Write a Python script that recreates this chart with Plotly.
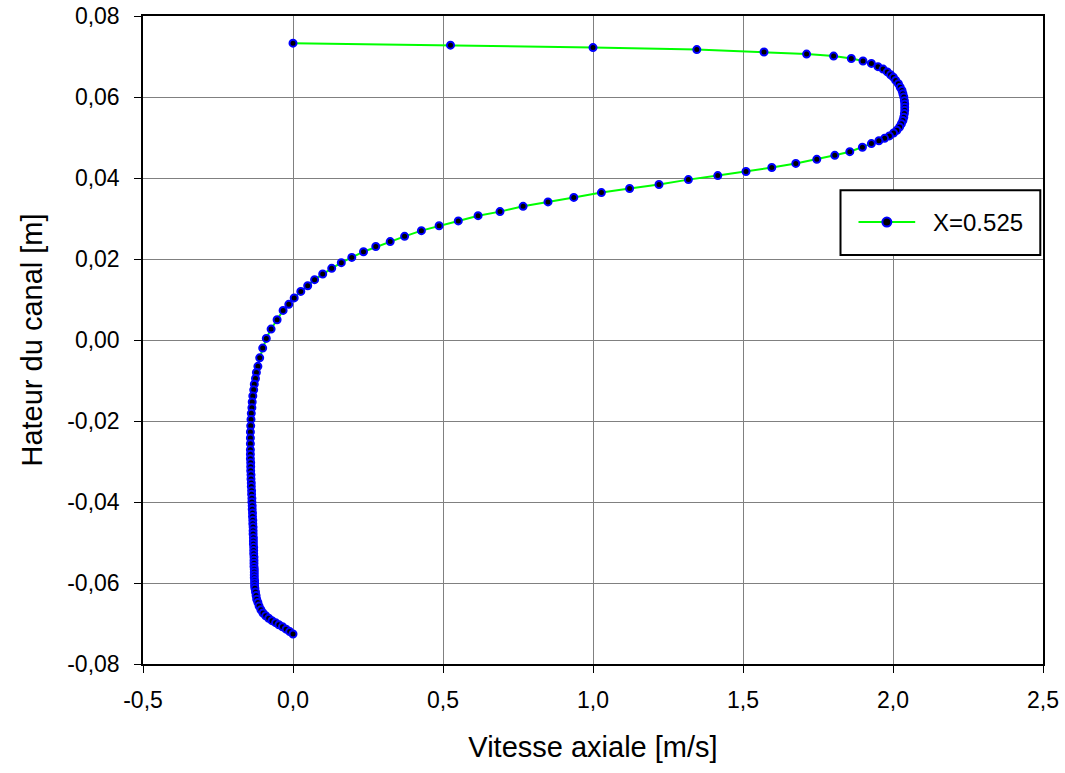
import plotly.graph_objects as go

# Axial velocity profile across the channel height at X=0.525
vitesse = [
    0.000, 0.525, 1.000, 1.346, 1.570, 1.712, 1.802, 1.861, 1.900, 1.928,
    1.950, 1.967, 1.981, 1.992, 2.001, 2.009, 2.018, 2.024, 2.030, 2.033,
    2.036, 2.038, 2.039, 2.039, 2.039, 2.038, 2.036, 2.033, 2.028, 2.022,
    2.013, 2.002, 1.988, 1.972, 1.953, 1.928, 1.898, 1.856, 1.806, 1.746,
    1.676, 1.596, 1.510, 1.416, 1.318, 1.220, 1.122, 1.028, 0.936, 0.850,
    0.767, 0.690, 0.617, 0.551, 0.487, 0.428, 0.372, 0.324, 0.276, 0.235,
    0.196, 0.161, 0.129, 0.099, 0.072, 0.049, 0.026, 0.004, -0.014, -0.033,
    -0.053, -0.073, -0.089, -0.101, -0.111, -0.117, -0.122, -0.125, -0.129, -0.131,
    -0.134, -0.136, -0.137, -0.139, -0.140, -0.141, -0.142, -0.142, -0.142, -0.142,
    -0.142, -0.142, -0.141, -0.141, -0.141, -0.140, -0.140, -0.139, -0.139, -0.138,
    -0.138, -0.137, -0.137, -0.136, -0.136, -0.135, -0.135, -0.134, -0.134, -0.133,
    -0.133, -0.133, -0.132, -0.132, -0.132, -0.131, -0.131, -0.131, -0.130, -0.130,
    -0.130, -0.130, -0.129, -0.129, -0.129, -0.129, -0.128, -0.128, -0.128, -0.127,
    -0.125, -0.123, -0.121, -0.117, -0.113, -0.107, -0.100, -0.091, -0.081, -0.070,
    -0.058, -0.047, -0.035, -0.023, -0.011, 0.000,
]
hauteur = [
    0.0733, 0.0728, 0.0722, 0.0717, 0.0711, 0.0706, 0.0701, 0.0695, 0.0689, 0.0683,
    0.0675, 0.0669, 0.0662, 0.0655, 0.0649, 0.0641, 0.0633, 0.0624, 0.0616, 0.0608,
    0.0600, 0.0591, 0.0583, 0.0575, 0.0567, 0.0559, 0.0550, 0.0542, 0.0534, 0.0526,
    0.0518, 0.0511, 0.0504, 0.0498, 0.0492, 0.0485, 0.0476, 0.0465, 0.0456, 0.0446,
    0.0436, 0.0426, 0.0416, 0.0406, 0.0396, 0.0384, 0.0374, 0.0364, 0.0352, 0.0341,
    0.0330, 0.0317, 0.0307, 0.0294, 0.0282, 0.0270, 0.0256, 0.0243, 0.0231, 0.0218,
    0.0204, 0.0191, 0.0177, 0.0163, 0.0149, 0.0134, 0.0120, 0.0104, 0.0088, 0.0073,
    0.0050, 0.0027, 0.0004, -0.0020, -0.0044, -0.0065, -0.0080, -0.0095, -0.0109, -0.0123,
    -0.0138, -0.0153, -0.0167, -0.0181, -0.0196, -0.0212, -0.0227, -0.0242, -0.0256, -0.0271,
    -0.0282, -0.0293, -0.0303, -0.0313, -0.0323, -0.0333, -0.0343, -0.0353, -0.0362, -0.0372,
    -0.0381, -0.0391, -0.0400, -0.0409, -0.0418, -0.0427, -0.0436, -0.0445, -0.0454, -0.0462,
    -0.0471, -0.0479, -0.0488, -0.0496, -0.0504, -0.0512, -0.0520, -0.0528, -0.0536, -0.0544,
    -0.0551, -0.0559, -0.0566, -0.0573, -0.0580, -0.0587, -0.0594, -0.0600, -0.0607, -0.0613,
    -0.0622, -0.0631, -0.0640, -0.0648, -0.0657, -0.0666, -0.0674, -0.0681, -0.0687, -0.0693,
    -0.0698, -0.0703, -0.0708, -0.0714, -0.0720, -0.0726,
]

x_ticks = [-0.5, 0.0, 0.5, 1.0, 1.5, 2.0, 2.5]
x_labels = ["-0,5", "0,0", "0,5", "1,0", "1,5", "2,0", "2,5"]
y_ticks = [0.08, 0.06, 0.04, 0.02, 0.0, -0.02, -0.04, -0.06, -0.08]
y_labels = ["0,08", "0,06", "0,04", "0,02", "0,00", "-0,02", "-0,04", "-0,06", "-0,08"]

serie_nom = "X=0.525"
LINE_GREEN = "#00FF00"
MARK_BLUE = "#0000FF"
FONT = "Liberation Sans, Arial, sans-serif"

fig = go.Figure()
fig.add_trace(go.Scatter(
    x=vitesse, y=hauteur, mode="lines+markers", name=serie_nom,
    line=dict(color=LINE_GREEN, width=2),
    marker=dict(size=7, color="black", line=dict(color=MARK_BLUE, width=2)),
    showlegend=False,
))

axis_common = dict(
    showgrid=True, gridcolor="#808080", gridwidth=1,
    showline=True, linecolor="black", linewidth=1.5, mirror=True,
    ticks="outside", ticklen=7, tickcolor="black", tickwidth=1,
    zeroline=False, automargin=False,
    tickfont=dict(family=FONT, size=23, color="black"),
)

fig.update_xaxes(
    range=[-0.5, 2.5], tickvals=x_ticks, ticktext=x_labels, ticklabelstandoff=8,
    title=dict(text="Vitesse axiale [m/s]", font=dict(family=FONT, size=29, color="black"), standoff=24),
    **axis_common,
)
fig.update_yaxes(
    range=[-0.08, 0.08], tickvals=y_ticks, ticktext=y_labels, ticklabelstandoff=10,
    title=dict(text="Hateur du canal [m]", font=dict(family=FONT, size=29, color="black"), standoff=16),
    **axis_common,
)

# Framed legend box drawn in paper coordinates
lx0, lx1, ly0, ly1 = 0.775, 0.997, 0.631, 0.731
ly_mid = 0.682
fig.add_shape(type="rect", xref="paper", yref="paper", x0=lx0, x1=lx1, y0=ly0, y1=ly1,
              line=dict(color="black", width=2), fillcolor="white", layer="above")
fig.add_shape(type="line", xref="paper", yref="paper", x0=0.795, x1=0.858, y0=ly_mid, y1=ly_mid,
              line=dict(color=LINE_GREEN, width=2), layer="above")
fig.add_shape(type="circle", xref="paper", yref="paper", xsizemode="pixel", ysizemode="pixel",
              xanchor=0.8265, yanchor=ly_mid, x0=-4.5, x1=4.5, y0=-4.5, y1=4.5,
              fillcolor="black", line=dict(color=MARK_BLUE, width=2), layer="above")
fig.add_annotation(xref="paper", yref="paper", x=0.875, y=ly_mid, text=serie_nom,
                   showarrow=False, xanchor="left", yanchor="middle",
                   font=dict(family=FONT, size=24, color="black"))

fig.update_layout(
    width=1065, height=773,
    margin=dict(l=143, r=22, t=16, b=109),
    plot_bgcolor="white", paper_bgcolor="white",
    font=dict(family=FONT, color="black"),
)

fig.write_html("out.html")
